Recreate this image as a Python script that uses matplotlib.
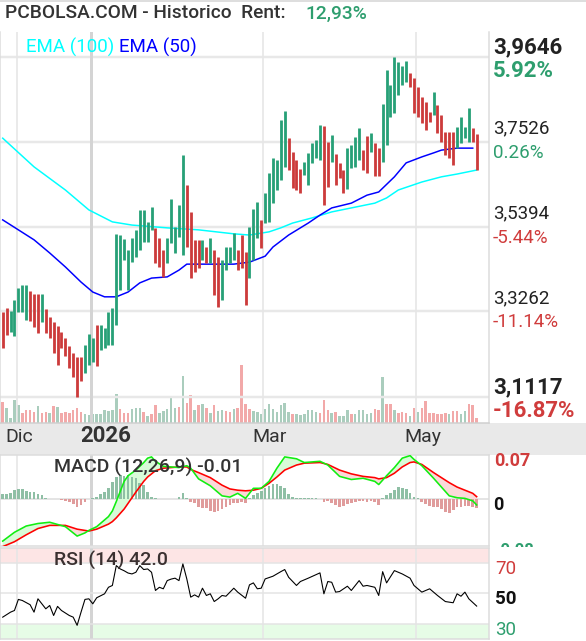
import numpy as np
import matplotlib
matplotlib.use('Agg')
import matplotlib.pyplot as plt
from matplotlib.patches import Rectangle
from matplotlib.transforms import Bbox

plt.rcParams['font.family'] = ['Roboto', 'DejaVu Sans']

# ---- values (one bar per trading day) ----
highs = [3.325, 3.335, 3.327, 3.355, 3.385, 3.393, 3.393, 3.378, 3.370, 3.370,
         3.370, 3.332, 3.312, 3.300, 3.290, 3.275, 3.260, 3.240, 3.222, 3.212,
         3.212, 3.242, 3.270, 3.260, 3.292, 3.292, 3.285, 3.325, 3.335, 3.521,
         3.518, 3.508, 3.480, 3.511, 3.531, 3.581, 3.581, 3.551, 3.588, 3.536,
         3.511, 3.480, 3.511, 3.608, 3.538, 3.593, 3.719, 3.643, 3.576, 3.506,
         3.506, 3.506, 3.488, 3.511, 3.480, 3.463, 3.455, 3.488, 3.488, 3.523,
         3.480, 3.518, 3.475, 3.538, 3.583, 3.601, 3.556, 3.623, 3.674, 3.711,
         3.706, 3.807, 3.829, 3.761, 3.726, 3.706, 3.684, 3.701, 3.724, 3.749,
         3.756, 3.794, 3.792, 3.751, 3.769, 3.721, 3.699, 3.681, 3.736, 3.744,
         3.764, 3.786, 3.731, 3.766, 3.774, 3.749, 3.736, 3.847, 3.932, 3.894,
         3.9646, 3.952, 3.942, 3.955, 3.924, 3.912, 3.889, 3.864, 3.852, 3.827,
         3.877, 3.844, 3.819, 3.776, 3.776, 3.776, 3.789, 3.814, 3.789, 3.837,
         3.786, 3.771]
lows = [3.235, 3.267, 3.275, 3.265, 3.325, 3.325, 3.305, 3.302, 3.287, 3.272,
        3.300, 3.272, 3.260, 3.222, 3.192, 3.235, 3.215, 3.185, 3.162, 3.1117,
        3.152, 3.172, 3.192, 3.200, 3.190, 3.230, 3.235, 3.242, 3.242, 3.292,
        3.380, 3.455, 3.380, 3.450, 3.463, 3.480, 3.501, 3.501, 3.531, 3.448,
        3.438, 3.413, 3.448, 3.498, 3.473, 3.513, 3.468, 3.488, 3.410, 3.425,
        3.435, 3.455, 3.448, 3.448, 3.368, 3.337, 3.355, 3.430, 3.448, 3.455,
        3.430, 3.435, 3.342, 3.410, 3.455, 3.511, 3.486, 3.548, 3.551, 3.598,
        3.631, 3.656, 3.689, 3.681, 3.636, 3.631, 3.623, 3.669, 3.643, 3.699,
        3.711, 3.706, 3.593, 3.638, 3.701, 3.643, 3.661, 3.623, 3.633, 3.686,
        3.689, 3.706, 3.681, 3.674, 3.726, 3.666, 3.666, 3.701, 3.744, 3.814,
        3.824, 3.869, 3.894, 3.902, 3.889, 3.824, 3.814, 3.799, 3.781, 3.802,
        3.819, 3.774, 3.751, 3.719, 3.711, 3.694, 3.736, 3.749, 3.761, 3.751,
        3.751, 3.681]
bar_up = [0, 0, 1, 1, 1, 1, 1, 0, 0, 0,
          1, 0, 0, 0, 0, 0, 0, 0, 0, 0,
          0, 1, 1, 1, 0, 1, 1, 1, 1, 1,
          1, 1, 1, 1, 1, 1, 1, 1, 1, 0,
          0, 0, 1, 1, 1, 1, 1, 0, 0, 0,
          0, 1, 0, 1, 0, 0, 1, 1, 1, 1,
          0, 0, 0, 1, 1, 1, 0, 1, 1, 1,
          1, 1, 1, 0, 0, 0, 0, 1, 1, 1,
          1, 1, 0, 0, 1, 0, 0, 0, 1, 1,
          1, 1, 0, 0, 1, 0, 0, 1, 1, 1,
          1, 1, 1, 1, 0, 0, 0, 0, 0, 0,
          1, 0, 0, 0, 0, 0, 1, 1, 1, 1,
          0, 0]
volume = [525, 375, 125, 567, 442, 250, 317, 317, 275, 417,
          258, 275, 250, 417, 400, 250, 275, 258, 317, 375,
          275, 217, 192, 217, 217, 217, 317, 300, 317, 717,
          342, 258, 258, 342, 383, 375, 275, 175, 233, 442,
          258, 300, 358, 667, 375, 400, 1167, 508, 692, 317,
          442, 483, 375, 258, 442, 300, 333, 292, 275, 358,
          383, 1442, 467, 358, 292, 275, 233, 358, 467, 358,
          275, 442, 492, 275, 217, 233, 192, 217, 317, 333,
          275, 250, 567, 333, 258, 275, 167, 167, 333, 217,
          217, 317, 333, 217, 258, 358, 317, 1150, 467, 467,
          333, 258, 275, 250, 175, 383, 275, 375, 542, 258,
          250, 233, 233, 250, 217, 292, 292, 217, 300, 467,
          442, 133]
vol_up = [0, 1, 1, 1, 1, 0, 0, 0, 0, 1,
          0, 0, 1, 0, 1, 0, 0, 0, 0, 0,
          0, 1, 1, 1, 1, 1, 1, 1, 1, 1,
          0, 0, 0, 1, 1, 1, 0, 1, 0, 0,
          1, 1, 1, 1, 1, 0, 1, 0, 0, 1,
          0, 1, 0, 1, 0, 1, 1, 0, 0, 1,
          0, 0, 0, 0, 1, 1, 1, 1, 1, 1,
          1, 1, 1, 1, 0, 1, 1, 1, 1, 1,
          1, 0, 0, 0, 1, 0, 1, 1, 1, 0,
          1, 1, 1, 1, 1, 0, 0, 1, 0, 0,
          1, 0, 0, 0, 1, 0, 1, 0, 0, 0,
          0, 0, 0, 0, 1, 0, 0, 1, 1, 0,
          0, 0]

ema100_idx = [0, 8, 16, 22, 28, 33, 42, 50, 59, 63, 68, 71, 74, 79, 84, 89, 95, 98, 101, 107, 112, 116, 121]
ema100 = [3.761, 3.689, 3.631, 3.581, 3.551, 3.543, 3.536, 3.531, 3.521, 3.518, 3.526, 3.536,
          3.548, 3.561, 3.576, 3.586, 3.598, 3.611, 3.631, 3.651, 3.664, 3.671, 3.681]
ema50_idx = [0, 4, 8, 12, 16, 20, 23, 26, 29, 32, 35, 38, 42, 45, 47, 50, 59, 63, 67, 69, 73, 78,
             81, 84, 89, 93, 96, 100, 103, 107, 110, 112, 116, 120]
ema50 = [3.556, 3.531, 3.506, 3.473, 3.438, 3.400, 3.375, 3.363, 3.363, 3.375, 3.398, 3.410,
         3.413, 3.430, 3.445, 3.445, 3.445, 3.450, 3.465, 3.488, 3.518, 3.548, 3.568, 3.586,
         3.598, 3.618, 3.626, 3.664, 3.699, 3.714, 3.724, 3.731, 3.736, 3.736]

macd_idx = [0, 3, 6, 9, 12, 16, 19, 21, 22, 24, 27, 28, 29, 31, 32, 34, 36, 37, 38, 39, 41, 45,
            47, 48, 50, 53, 56, 58, 60, 62, 64, 66, 68, 70, 72, 75, 77, 81, 83, 86, 89, 92, 95,
            96, 98, 100, 102, 104, 105, 107, 110, 114, 116, 118, 120, 121]
macd = [-0.067, -0.053, -0.043, -0.039, -0.037, -0.044, -0.059, -0.054, -0.050, -0.044,
        -0.028, -0.019, -0.004, 0.028, 0.037, 0.046, 0.058, 0.065, 0.067, 0.060,
        0.052, 0.050, 0.053, 0.049, 0.032, 0.021, 0.005, 0.003, 0.009, 0.001,
        0.017, 0.017, 0.028, 0.049, 0.067, 0.064, 0.058, 0.060, 0.054, 0.036,
        0.031, 0.033, 0.028, 0.023, 0.037, 0.050, 0.065, 0.069, 0.063, 0.053,
        0.033, 0.005, 0.002, 0.001, -0.003, -0.0095]
signal = [-0.0758, -0.068, -0.057, -0.047, -0.042, -0.042, -0.048, -0.050, -0.051, -0.048,
          -0.040, -0.036, -0.030, -0.016, -0.007, 0.011, 0.028, 0.035, 0.040, 0.045,
          0.049, 0.051, 0.051, 0.047, 0.042, 0.034, 0.022, 0.016, 0.014, 0.013,
          0.014, 0.017, 0.025, 0.035, 0.046, 0.054, 0.057, 0.058, 0.055, 0.046,
          0.040, 0.036, 0.034, 0.032, 0.034, 0.041, 0.051, 0.058, 0.059, 0.055,
          0.042, 0.026, 0.019, 0.014, 0.009, 0.0037]
hist = [0.0075, 0.0075, 0.0091, 0.0143, 0.0159, 0.0159, 0.0127, 0.0107, 0.0107, 0.0075,
        0.0064, 0.0016, 0.0005, -0.0005, -0.0008, -0.0016, -0.0032, -0.0043, -0.0084, -0.0122,
        -0.0095, -0.0043, -0.0008, 0.0021, 0.0037, 0.0075, 0.0116, 0.0180, 0.0265, 0.0355,
        0.0382, 0.0371, 0.0382, 0.0355, 0.0329, 0.0259, 0.0223, 0.0116, 0.0037, 0.0008,
        -0.0008, -0.0008, -0.0008, -0.0005, -0.0005, 0.0032, 0.0091, 0.0008, -0.0043, -0.0068,
        -0.0122, -0.0138, -0.0148, -0.0191, -0.0202, -0.0191, -0.0159, -0.0122, -0.0095, -0.0068,
        -0.0068, -0.0048, -0.0068, 0.0016, 0.0064, 0.0091, 0.0127, 0.0170, 0.0212, 0.0234,
        0.0234, 0.0212, 0.0170, 0.0075, 0.0037, 0.0016, 0.0016, 0.0016, 0.0016, 0.0021,
        0.0008, -0.0008, -0.0043, -0.0032, -0.0068, -0.0095, -0.0122, -0.0107, -0.0084, -0.0068,
        -0.0043, -0.0032, -0.0032, -0.0043, -0.0032, -0.0048, -0.0095, 0.0016, 0.0064, 0.0091,
        0.0143, 0.0186, 0.0170, 0.0154, 0.0091, 0.0037, 0.0008, -0.0043, -0.0084, -0.0107,
        -0.0122, -0.0122, -0.0159, -0.0202, -0.0218, -0.0175, -0.0122, -0.0122, -0.0107, -0.0107,
        -0.0127, -0.0148]

rsi_idx = [0, 2, 3, 4, 5, 7, 8, 9, 10, 11, 12, 13, 14, 15, 17, 18, 19, 20, 21, 22, 23, 24, 26,
           27, 28, 29, 30, 31, 32, 33, 34, 35, 36, 37, 38, 39, 40, 41, 42, 43, 44, 45, 46, 47,
           48, 49, 50, 51, 52, 53, 54, 55, 56, 57, 59, 60, 62, 63, 64, 65, 66, 67, 69, 71, 72,
           73, 75, 76, 78, 81, 82, 83, 84, 85, 86, 88, 89, 91, 92, 93, 95, 96, 97, 98, 100,
           102, 104, 105, 107, 109, 111, 113, 115, 116, 117, 118, 119, 121]
rsi = [34.4, 37.7, 38.8, 46.1, 45.4, 42.6, 37.7, 46.5, 43.2, 39.9, 42.1, 35.5, 41.5, 38.8,
       35.5, 34.4, 29.0, 37.7, 46.1, 46.5, 43.2, 47.2, 49.8, 54.1, 55.3, 68.4, 66.2, 65.0,
       63.5, 62.9, 64.0, 68.4, 65.8, 66.2, 64.0, 52.0, 54.1, 53.1, 58.5, 59.5, 60.1, 58.5,
       69.5, 59.6, 47.6, 49.1, 47.6, 53.5, 48.7, 49.8, 44.7, 46.5, 48.7, 48.2, 53.5, 50.9,
       46.9, 55.7, 57.0, 53.1, 53.5, 59.6, 61.4, 64.4, 65.8, 60.7, 55.3, 57.9, 60.1, 63.6,
       49.8, 57.9, 57.4, 50.9, 51.3, 54.8, 52.0, 58.5, 54.8, 55.3, 54.1, 48.7, 64.4, 57.0,
       65.1, 62.9, 60.1, 55.3, 50.9, 53.1, 48.7, 44.7, 43.9, 49.8, 48.2, 50.9, 46.5, 41.7]

date_pos = [3.57, 22.54, 66.56, 105.39]
date_labels = ['Dic', '2026', 'Mar', 'May']
price_levels = [3.9646, 3.7526, 3.5394, 3.3262, 3.1117]
ref_price = 3.743
rent = '12,93%'
macd_title = 'MACD (12,26,9) -0.01'
macd_labels = ['0.07', '0', '-0.08']
rsi_title = 'RSI (14) 42.0'
rsi_levels = [70, 50, 30]

# ---- styling ----
W, H = 586, 641
GREEN, RED = '#27a077', '#cc3b3b'
VGREEN, VRED = '#aacdbd', '#f2a9a9'
TGREEN, TRED = '#2e9e6e', '#d03c3c'
TXT = '#333333'
X0, X1 = -0.689, 124.15

fig = plt.figure(figsize=(W / 100, H / 100), dpi=100)


def box(x0, y0, x1, y1):
    # pixel box (from top-left) -> figure fraction rect
    return [x0 / W, 1 - y1 / H, (x1 - x0) / W, (y1 - y0) / H]


def pt(p):
    return p * 0.72


def label(x, y, s, **kw):
    return fig.text(x / W, 1 - y / H, s, va='baseline', **kw)


def vgrid(a):
    for t, lbl in zip(date_pos, date_labels):
        if lbl == '2026':
            a.axvline(t, color='#d4d4d4', lw=pt(3), zorder=0)
        else:
            a.axvline(t, color='#e6e6e6', lw=pt(1.6), zorder=0)


def frame(a):
    a.set_xticks([])
    a.set_yticks([])
    for s in a.spines.values():
        s.set_color('#dcdcdc')
        s.set_linewidth(pt(1.5))


fig.add_artist(Rectangle((0, 1 - 455 / H), 1, 32 / H, transform=fig.transFigure,
                         facecolor='#e9e9e9', edgecolor='none', zorder=-2))
fig.add_artist(Rectangle((0, 1 - 2 / H), 1, 2 / H, transform=fig.transFigure,
                         facecolor='#dedede', edgecolor='none', zorder=-2))

idx = np.arange(len(highs))

# ---- price panel ----
ax = fig.add_axes(box(0, 32, 489, 423))
axv = ax.twinx()
ax.set_zorder(axv.get_zorder() + 1)
ax.patch.set_visible(False)
axv.bar(idx, volume, width=0.64, color=[VGREEN if u else VRED for u in vol_up])
axv.set_ylim(0, max(volume) * 391 / 57.7)
axv.axis('off')

ax.set_xlim(X0, X1)
ax.set_ylim(3.0465, 4.0273)
for p in price_levels:
    ax.axhline(p, color='#e8e8e8', lw=pt(2.5), zorder=0)
vgrid(ax)
ax.plot(ema100_idx, ema100, color='#00ffff', lw=pt(1.5), zorder=2)
ax.plot(ema50_idx, ema50, color='#0000ff', lw=pt(1.5), zorder=2)
ax.vlines(idx, lows, highs, colors=[GREEN if u else RED for u in bar_up],
          linewidth=pt(2.8), zorder=3)
frame(ax)
ax.spines['top'].set_visible(False)
ax.spines['bottom'].set_color('#cfcfcf')

label(26, 53, 'EMA (100)', color='#00ffff', fontsize=13.5)
label(119, 53, 'EMA (50)', color='#0000ff', fontsize=13.5)

for k, p in enumerate(price_levels):
    edge = k in (0, len(price_levels) - 1)
    pct = (p / ref_price - 1) * 100
    ax.annotate(f'{p:.4f}'.replace('.', ','), xy=(493, p), xycoords=('figure pixels', 'data'),
                xytext=(0, pt(3.5 if edge else 8)), textcoords='offset points',
                ha='left', va='baseline', fontsize=16 if edge else 13.5,
                fontweight='bold' if edge else 'normal', color='#222222', annotation_clip=False)
    ax.annotate(f'{pct:.2f}%', xy=(493, p), xycoords=('figure pixels', 'data'),
                xytext=(0, -pt(20 if edge else 16)), textcoords='offset points',
                ha='left', va='baseline', fontsize=16 if edge else 13.5,
                fontweight='bold' if edge else 'normal',
                color=TGREEN if pct >= 0 else TRED, annotation_clip=False)

for t, lbl in zip(date_pos, date_labels):
    ax.annotate(lbl, xy=(t, H - 442), xycoords=('data', 'figure pixels'),
                xytext=(-pt(11), 0), textcoords='offset points', ha='left', va='baseline',
                fontsize=16 if lbl == '2026' else 14,
                fontweight='bold' if lbl == '2026' else 'normal', color=TXT,
                annotation_clip=False)

label(5, 18.5, 'PCBOLSA.COM - Historico  Rent:', fontsize=13.8, color=TXT, fontweight='medium')
label(305, 18.5, rent, fontsize=13.8, color=TGREEN, fontweight='medium')

# ---- MACD panel ----
axm = fig.add_axes(box(0, 455, 489, 546))
axm.set_xlim(X0, X1)
axm.set_ylim(-0.0748, 0.07)
vgrid(axm)
axm.axhline(0, color='#dcdcdc', lw=pt(1.5), zorder=0)
mi = np.array(macd_idx)
mv = np.array(macd)
sv = np.array(signal)
axm.fill_between(mi, mv, sv, where=mv >= sv, interpolate=True, color='#d8fbd8', lw=0, zorder=1)
axm.fill_between(mi, mv, sv, where=mv < sv, interpolate=True, color='#fbd9d9', lw=0, zorder=1)
axm.bar(idx, hist, width=0.69, color=['#8fbfa5' if h >= 0 else '#e09c9c' for h in hist], zorder=2)
axm.plot(mi, sv, color='#ff0000', lw=pt(1.6), zorder=3)
axm.plot(mi, mv, color='#11ee11', lw=pt(1.6), zorder=4)
frame(axm)
label(54, 473, macd_title, fontsize=14, color=TXT, fontweight='medium', zorder=5)
label(494, 466.5, macd_labels[0], fontsize=13, color=TRED, fontweight='bold')
label(493, 510, macd_labels[1], fontsize=13, color='#111111', fontweight='bold')
lo = label(494, 555, macd_labels[2], fontsize=12, color=TGREEN, fontweight='bold')
lo.set_clip_box(Bbox.from_extents(0, H - 547, W, H))
lo.set_clip_on(True)

# ---- RSI panel ----
axr = fig.add_axes(box(0, 548, 489, 639))
axr.set_xlim(X0, X1)
axr.set_ylim(20, 80)
axr.axhspan(70, 80, color='#fde5e5', lw=0, zorder=0)
axr.axhspan(20, 30, color='#e6fce6', lw=0, zorder=0)
vgrid(axr)
for lv in rsi_levels:
    axr.axhline(lv, color='#e4e4e4', lw=pt(1.5), zorder=0)
axr.plot(rsi_idx, rsi, color='#000000', lw=pt(1.1), zorder=3)
frame(axr)
label(54, 566, rsi_title, fontsize=14, color='#3a3030', fontweight='medium', zorder=5)
label(495, 574, str(rsi_levels[0]), fontsize=13.5, color=TRED)
label(495, 604, str(rsi_levels[1]), fontsize=13.5, color='#111111', fontweight='bold')
label(495, 635, str(rsi_levels[2]), fontsize=13.5, color=TGREEN)

fig.savefig('out.png', dpi=100)
